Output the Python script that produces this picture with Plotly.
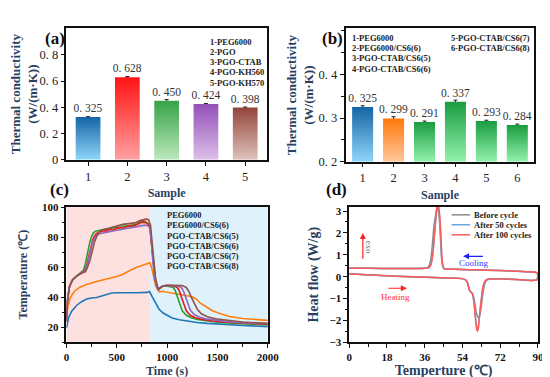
import plotly.graph_objects as go

# ---------------- data ----------------
# (a)
a_samples = [1, 2, 3, 4, 5]
a_values = [0.325, 0.628, 0.450, 0.424, 0.398]
a_errors = [0.004, 0.006, 0.009, 0.005, 0.004]
a_legend = ["1-PEG6000", "2-PGO", "3-PGO-CTAB", "4-PGO-KH560", "5-PGO-KH570"]
a_yticks = [0, 0.2, 0.4, 0.6, 0.8]
a_yticktext = ["0", "0. 2", "0. 4", "0. 6", "0. 8"]

# (b)
b_samples = [1, 2, 3, 4, 5, 6]
b_values = [0.325, 0.299, 0.291, 0.337, 0.293, 0.284]
b_errors = [0.003, 0.004, 0.002, 0.004, 0.002, 0.002]
b_legend = ["1-PEG6000", "2-PEG6000/CS6(6)", "3-PGO-CTAB/CS6(5)", "4-PGO-CTAB/CS6(6)",
            "5-PGO-CTAB/CS6(7)", "6-PGO-CTAB/CS6(8)"]
b_yticks = [0.2, 0.3, 0.4]
b_yticktext = ["0. 2", "0. 3", "0. 4"]

# (c) temperature-time curves
c_names = ["PEG6000", "PEG6000/CS6(6)", "PGO-CTAB/CS6(5)", "PGO-CTAB/CS6(6)",
           "PGO-CTAB/CS6(7)", "PGO-CTAB/CS6(8)"]
t_peg = [0, 20, 50, 100, 150, 200, 250, 300, 350, 400, 450, 500, 600, 700, 800, 825, 850, 880,
         920, 960, 1000, 1050, 1120, 1200, 1300, 1400, 1500, 1600, 1800, 2000]
T_peg = [19.5, 26, 30.5, 34.5, 37, 38.8, 39.5, 39.8, 40.8, 42, 42.8, 43, 42.8, 43, 43.2, 43.8,
         40.5, 36.5, 32, 29.5, 27.8, 26.2, 25, 24, 23.2, 22.6, 22.1, 21.7, 21, 20.4]
t_pegcs = [0, 15, 40, 80, 130, 200, 300, 400, 500, 550, 600, 650, 700, 750, 800, 830, 845, 865,
           885, 905, 925, 950, 1000, 1100, 1200, 1250, 1290, 1330, 1380, 1450, 1530, 1620, 1750,
           1900, 2000]
T_pegcs = [27, 34, 40, 44, 46.5, 48.5, 50.5, 52, 53.8, 55, 57, 58.5, 60, 61.3, 62.5, 63, 60, 54,
           48, 45, 43.5, 44, 43.3, 42.2, 41, 40.3, 38.8, 36, 34, 31, 29, 27.2, 25.8, 25, 24.6]
t_cs5 = [0, 10, 30, 60, 100, 150, 170, 190, 210, 230, 250, 270, 290, 320, 360, 400, 430, 460, 500,
         530, 560, 600, 630, 660, 700, 720, 740, 760, 780, 810, 830, 845, 860, 880, 900, 915, 935,
         960, 1000, 1040, 1060, 1080, 1100, 1125, 1150, 1190, 1240, 1300, 1400, 1500, 1700, 2000]
T_cs5 = [24, 38, 47, 51.5, 54, 56.5, 58, 63, 70, 76, 80.5, 83, 84, 84.5, 84.8, 85.5, 85.2, 86.2,
         86.5, 86.1, 87.2, 87.5, 87.1, 88.4, 88.8, 89.9, 90.3, 89.6, 89.8, 89, 86, 75, 62, 52, 46.5,
         45, 46.5, 47.5, 47.5, 47, 46.5, 44.5, 40.5, 35, 31, 28, 26.3, 25.2, 24, 23.3, 22.5, 21.6]
t_cs6 = [0, 10, 30, 60, 100, 150, 180, 200, 220, 240, 260, 280, 300, 330, 370, 400, 430, 460, 500,
         530, 560, 600, 630, 660, 700, 720, 740, 770, 800, 830, 845, 860, 880, 900, 915, 935, 960,
         1000, 1050, 1100, 1120, 1140, 1165, 1190, 1230, 1280, 1340, 1450, 1600, 1800, 2000]
T_cs6 = [24, 38, 47, 51.5, 54, 56, 57.5, 61, 67, 73, 78, 81, 82.5, 83.5, 84.2, 84, 85.3, 84.6,
         85.5, 86.6, 85.8, 87, 87.9, 87.2, 88.5, 89.4, 89.5, 90.6, 89.5, 87, 76, 63, 52, 46.5, 45,
         46.5, 47.5, 48, 47.8, 46.5, 44.5, 40.5, 35, 31, 28, 26.3, 25.3, 24.2, 23.3, 22.6, 22]
t_cs7 = [0, 10, 30, 60, 100, 150, 180, 200, 220, 240, 260, 280, 300, 330, 370, 400, 450, 500, 550,
         600, 650, 700, 750, 780, 810, 830, 845, 860, 880, 900, 915, 935, 960, 1000, 1050, 1100,
         1140, 1160, 1180, 1205, 1230, 1270, 1320, 1380, 1500, 1650, 1850, 2000]
T_cs7 = [24, 38, 47, 51.5, 54, 56, 57.3, 60, 65.5, 71.5, 76.5, 79.5, 81.2, 82.3, 83, 83.5, 84,
         84.6, 85.2, 86, 86.3, 87, 87.5, 88, 87.6, 86, 75.5, 62.5, 52, 46.5, 45, 46.5, 47.5, 47.8,
         47.8, 47.6, 46.5, 44.5, 40.5, 35, 31.5, 28.5, 26.8, 25.6, 24.4, 23.4, 22.7, 22.3]
t_cs8 = [0, 10, 30, 60, 100, 150, 190, 210, 235, 255, 280, 310, 340, 400, 450, 500, 560, 620, 680,
         730, 760, 790, 815, 835, 850, 865, 885, 905, 920, 940, 965, 1000, 1050, 1100, 1150, 1190,
         1215, 1240, 1270, 1300, 1340, 1400, 1480, 1600, 1750, 2000]
T_cs8 = [24, 38, 47, 51.5, 54, 56, 57, 60, 65, 71, 77, 82, 84.5, 85.5, 86.5, 87.5, 88.5, 89, 89.5,
         91, 91.5, 92, 91.8, 88, 77, 64, 53, 47, 45.3, 46.5, 47.6, 48, 48, 47.8, 47.8, 46.5, 44,
         40, 35.5, 32, 29, 27, 25.7, 24.5, 23.5, 22.6]

# (d) DSC curves: heating branch (0->90) followed by cooling branch (90->0)
d_names = ["Before cycle", "After 50 cycles", "After 100 cycles"]
d0_x = [0, 10, 20, 30, 40, 50, 54, 55.5, 56.5, 57.2, 58, 58.8, 59.5, 60.2, 60.8, 61.4, 61.9, 62.5,
        63.2, 63.9, 64.6, 65.5, 66.5, 70, 80, 88, 89.5, 89.9,
        89.6, 88, 80, 72, 60, 50, 46, 45, 44.3, 43.7, 43.1, 42.5, 41.9, 41.4, 40.8, 40.2,
        39.5, 38.7, 37.8, 36.8, 35.5, 30, 20, 10, 0]
d0_y = [0.13, 0.08, 0.03, -0.01, -0.04, -0.07, -0.09, -0.15, -0.3, -0.58, -0.7, -0.78, -1.0, -1.4,
        -1.7, -1.85, -1.85, -1.65, -1.2, -0.7, -0.35, -0.17, -0.12, -0.1, -0.13, -0.17, -0.15, 0.0,
        0.17, 0.21, 0.25, 0.28, 0.31, 0.34, 0.36, 0.38, 0.6, 1.4, 2.5, 3.0, 3.15, 2.9,
        2.6, 2.1, 1.3, 0.7, 0.45, 0.39, 0.38, 0.37, 0.37, 0.38, 0.38]
d1_x = [0, 10, 20, 30, 40, 50, 54, 55.5, 56.5, 57.2, 58, 58.8, 59.5, 60.2, 60.7, 61.2, 61.6, 62.1,
        62.7, 63.3, 64, 64.8, 65.6, 70, 80, 88, 89.5, 89.9,
        89.6, 88, 80, 72, 60, 50, 46, 45.1, 44.4, 43.8, 43.2, 42.7, 42.2, 41.8, 41.3, 40.7,
        40.1, 39.4, 38.6, 37.6, 36.5, 30, 20, 10, 0]
d1_y = [0.13, 0.08, 0.03, -0.01, -0.04, -0.07, -0.09, -0.15, -0.3, -0.58, -0.7, -0.8, -1.2, -1.85,
        -2.25, -2.38, -2.25, -1.85, -1.3, -0.85, -0.45, -0.22, -0.14, -0.1, -0.13, -0.17, -0.15, 0.0,
        0.17, 0.21, 0.25, 0.28, 0.31, 0.34, 0.36, 0.38, 0.62, 1.5, 2.6, 3.1, 3.25, 3.15,
        2.7, 2.0, 1.3, 0.75, 0.47, 0.4, 0.38, 0.37, 0.37, 0.38, 0.38]
d2_x = [0, 10, 20, 30, 40, 50, 54, 55.5, 56.5, 57.2, 58, 58.8, 59.5, 60.2, 60.7, 61.1, 61.5, 62,
        62.6, 63.2, 63.8, 64.5, 65.3, 66.5, 70, 80, 88, 89.5, 89.9,
        89.6, 88, 80, 72, 60, 50, 46, 45.2, 44.5, 43.9, 43.3, 42.8, 42.4, 42.0, 41.6, 41.0,
        40.4, 39.7, 39, 38.2, 37.3, 36, 30, 20, 10, 0]
d2_y = [0.13, 0.08, 0.03, -0.01, -0.04, -0.07, -0.09, -0.15, -0.3, -0.58, -0.7, -0.8, -1.2, -1.9,
        -2.35, -2.5, -2.4, -1.95, -1.35, -0.85, -0.45, -0.25, -0.15, -0.11, -0.1, -0.13, -0.17,
        -0.15, 0.0,
        0.17, 0.21, 0.25, 0.28, 0.31, 0.34, 0.36, 0.37, 0.62, 1.5, 2.6, 3.1, 3.3, 3.25,
        2.95, 2.3, 1.6, 0.9, 0.55, 0.42, 0.39, 0.38, 0.37, 0.37, 0.38, 0.38]

# ---------------- styles ----------------
W, H = 550, 377
SERIF = "Liberation Serif"
a_colors = [("#8fd6fa", "#1565a6"), ("#ffa0a0", "#ff1414"), ("#bce8bc", "#36a347"),
            ("#dcc0ea", "#9350b8"), ("#dfc2bb", "#94443a")]
b_colors = [("#8fd6fa", "#1565a6"), ("#ffc79c", "#ff780a"), ("#93f2ad", "#1a9c40"),
            ("#93f2ad", "#1a9c40"), ("#93f2ad", "#1a9c40"), ("#93f2ad", "#1a9c40")]
c_colors = ["#1f77b4", "#ff7f0e", "#2ca02c", "#e8191a", "#9467bd", "#8c564b"]
d_colors = ["#8c8c8c", "#6fa8dc", "#ff5a5a"]


def P(x, y):
    return x / W, 1 - y / H


fig = go.Figure()


def add_bars(xs, vals, errs, colors, width, base, xa, ya):
    for x, v, (light, dark) in zip(xs, vals, colors):
        fig.add_trace(go.Scatter(
            x=[x - width / 2, x + width / 2, x + width / 2, x - width / 2, x - width / 2],
            y=[base, base, v, v, base], fill="toself", mode="lines",
            line=dict(width=0, color=dark),
            fillgradient=dict(type="vertical", colorscale=[[0, light], [1, dark]]),
            hoverinfo="skip", showlegend=False, xaxis=xa, yaxis=ya))
    fig.add_trace(go.Bar(
        x=xs, y=vals, width=width, marker=dict(color="rgba(0,0,0,0)", line=dict(width=0)),
        error_y=dict(type="data", array=errs, color="#222", thickness=1, width=2),
        text=[f"{v:.3f}".replace(".", ". ") for v in vals], textposition="outside",
        constraintext="none",
        outsidetextfont=dict(family=SERIF, size=11.5, color="#333"), cliponaxis=False,
        showlegend=False, xaxis=xa, yaxis=ya))


add_bars(a_samples, a_values, a_errors, a_colors, 0.63, 0, "x", "y")
add_bars(b_samples, b_values, b_errors, b_colors, 0.68, 0.2, "x2", "y2")

c_series = [(t_peg, T_peg), (t_pegcs, T_pegcs), (t_cs5, T_cs5), (t_cs6, T_cs6),
            (t_cs7, T_cs7), (t_cs8, T_cs8)]
for (tt, TT), name, col in zip(c_series, c_names, c_colors):
    fig.add_trace(go.Scatter(x=tt, y=TT, mode="lines", name=name,
                             line=dict(color=col, width=1.6), showlegend=False,
                             xaxis="x3", yaxis="y3"))

d_series = [(d0_x, d0_y), (d1_x, d1_y), (d2_x, d2_y)]
for (xx, yy), name, col in zip(d_series, d_names, d_colors):
    fig.add_trace(go.Scatter(x=xx, y=yy, mode="lines", name=name, line=dict(color=col, width=1.5),
                             line_shape="spline", showlegend=False, xaxis="x4", yaxis="y4"))

tickfont_thin = dict(family=SERIF, size=12.5, color="#222")
tickfont_bold = dict(family=SERIF, size=11, color="#111", weight="bold")
axis_common = dict(showline=True, linewidth=1.5, linecolor="#111", mirror=True, ticks="outside",
                   ticklen=4, tickwidth=1, tickcolor="#111", showgrid=False, zeroline=False)

fig.update_layout(
    width=W, height=H, margin=dict(l=0, r=0, t=0, b=0), paper_bgcolor="white",
    plot_bgcolor="white", showlegend=False, barmode="overlay",
    xaxis=dict(axis_common, anchor="y", domain=[57 / W, 263 / W], range=[0.45, 5.55],
               tickvals=a_samples, tickfont=tickfont_thin,
               title=dict(text="Sample", font=dict(family=SERIF, size=12, weight="bold"), standoff=6)),
    yaxis=dict(axis_common, anchor="x", domain=[1 - 151 / H, 1 - 15 / H], range=[0, 1.0],
               tickvals=a_yticks, ticktext=a_yticktext, tickfont=tickfont_thin,
               title=dict(text="Thermal conductivity<br>(W/(m·K))",
                          font=dict(family=SERIF, size=13, weight="bold"), standoff=2)),
    xaxis2=dict(axis_common, anchor="y2", domain=[344 / W, 538 / W], range=[0.45, 6.55],
                tickvals=b_samples, tickfont=tickfont_thin,
                title=dict(text="Sample", font=dict(family=SERIF, size=12, weight="bold"), standoff=6)),
    yaxis2=dict(axis_common, anchor="x2", domain=[1 - 153 / H, 1 - 15 / H], range=[0.2, 0.505],
                tickvals=b_yticks, ticktext=b_yticktext, tickfont=tickfont_thin,
                minor=dict(dtick=0.05, ticks="outside", ticklen=2.5, tickcolor="#111"),
                title=dict(text="Thermal conductivity<br>(W/(m·K))",
                           font=dict(family=SERIF, size=13, weight="bold"), standoff=2)),
    xaxis3=dict(axis_common, anchor="y3", domain=[57 / W, 264 / W], range=[0, 2000], dtick=500,
                tickfont=tickfont_bold,
                minor=dict(dtick=250, ticks="outside", ticklen=2.5, tickcolor="#111"),
                title=dict(text="Time (s)", font=dict(family=SERIF, size=12, weight="bold"), standoff=4)),
    yaxis3=dict(axis_common, anchor="x3", domain=[1 - 340 / H, 1 - 200 / H], range=[10, 100],
                tickvals=[20, 40, 60, 80, 100], tickfont=tickfont_bold,
                minor=dict(dtick=10, ticks="outside", ticklen=2.5, tickcolor="#111"),
                title=dict(text="Temperature (℃)", font=dict(family=SERIF, size=12, weight="bold"),
                           standoff=12)),
    xaxis4=dict(axis_common, anchor="y4", domain=[347.7 / W, 541.7 / W], range=[0, 90], dtick=18,
                tickfont=tickfont_bold,
                minor=dict(dtick=9, ticks="outside", ticklen=2.5, tickcolor="#111"),
                title=dict(text="Temperture (℃)", font=dict(family=SERIF, size=14, weight="bold"),
                           standoff=2)),
    yaxis4=dict(axis_common, anchor="x4", domain=[1 - 340 / H, 1 - 200 / H], range=[-3, 3.18],
                dtick=1, tickfont=tickfont_bold,
                minor=dict(dtick=0.5, ticks="outside", ticklen=2.5, tickcolor="#111"),
                title=dict(text="Heat flow (W/g)", font=dict(family=SERIF, size=14, weight="bold"),
                           standoff=8)),
)

# background regions in (c)
fig.add_shape(type="rect", xref="x3", yref="y3 domain", x0=0, x1=832, y0=0, y1=1,
              fillcolor="#fde1e1", line=dict(width=0), layer="below")
fig.add_shape(type="rect", xref="x3", yref="y3 domain", x0=832, x1=2000, y0=0, y1=1,
              fillcolor="#dff2fc", line=dict(width=0), layer="below")

ann = []
# panel labels
for lab, (px_, py_) in zip(["(a)", "(b)", "(c)", "(d)"], [(33, 13), (331, 13), (38, 182), (335, 182)]):
    x, y = P(px_, py_)
    ann.append(dict(text=lab, x=x, y=y, xref="paper", yref="paper", showarrow=False,
                    font=dict(family=SERIF, size=17, weight="bold", color="#111")))


def legend_text(items, px_, ys):
    for t, py_ in zip(items, ys):
        x, y = P(px_, py_)
        ann.append(dict(text=t, x=x, y=y, xref="paper", yref="paper", showarrow=False,
                        xanchor="left", yanchor="middle",
                        font=dict(family=SERIF, size=8.5, weight="bold", color="#222")))


legend_text(a_legend, 203, [29, 39.5, 50, 60.5, 71])
legend_text(b_legend[:4], 349, [25, 35.5, 46, 56.5])
legend_text(b_legend[4:], 450, [25, 35.5])
legend_text(c_names, 158, [208.3, 219, 229.6, 240.2, 250.8, 261.4])
legend_text(d_names, 474, [208, 218.3, 228.7])
for col, py_ in zip(d_colors, [208, 218.3, 228.7]):
    fig.add_shape(type="line", xref="paper", yref="paper", x0=453 / W, x1=472 / W,
                  y0=1 - py_ / H, y1=1 - py_ / H, line=dict(color=col, width=1.5))

# (d) arrows and labels
ann.append(dict(x=6.5, y=2.0, ax=6.5, ay=0.75, xref="x4", yref="y4", axref="x4", ayref="y4",
                showarrow=True, arrowhead=2, arrowsize=1, arrowwidth=1.2, arrowcolor="#ff2020", text=""))
ann.append(dict(text="exo", x=9.2, y=1.35, xref="x4", yref="y4", showarrow=False, textangle=90,
                font=dict(family=SERIF, size=9, color="#777")))
ann.append(dict(x=27.5, y=-0.53, ax=18, ay=-0.53, xref="x4", yref="y4", axref="x4", ayref="y4",
                showarrow=True, arrowhead=2, arrowsize=1, arrowwidth=1.2, arrowcolor="#ff2020", text=""))
ann.append(dict(text="Heating", x=22.2, y=-0.92, xref="x4", yref="y4", showarrow=False,
                font=dict(family=SERIF, size=9, color="#ff3030")))
ann.append(dict(x=54.3, y=0.93, ax=64.5, ay=0.93, xref="x4", yref="y4", axref="x4", ayref="y4",
                showarrow=True, arrowhead=2, arrowsize=1, arrowwidth=1.2, arrowcolor="#2020ff", text=""))
ann.append(dict(text="Cooling", x=59.5, y=0.63, xref="x4", yref="y4", showarrow=False,
                font=dict(family=SERIF, size=9, color="#3a3aff")))

fig.update_layout(annotations=ann)
fig.write_html("out.html")
